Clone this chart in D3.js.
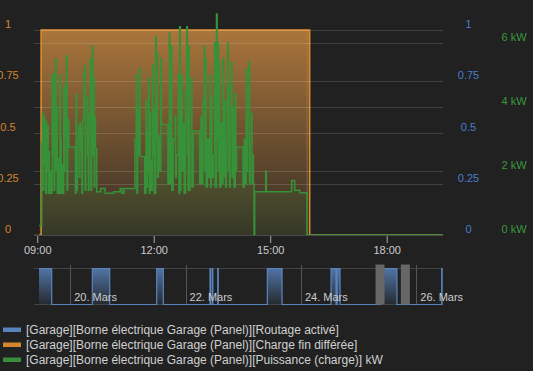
<!DOCTYPE html>
<html>
<head>
<meta charset="utf-8">
<script src="https://cdn.jsdelivr.net/npm/d3@7"></script>
<style>
  html, body { margin: 0; padding: 0; background: #212121; }
  svg { display: block; font-family: "Liberation Sans", Arial, sans-serif; }
</style>
</head>
<body>
<svg id="chart" width="533" height="371"></svg>
<script>
// visible window and navigator window
const day = '2024-03-25';
const viewStart = '2024-03-25 08:55';
const viewEnd = '2024-03-25 19:27';
const navStart = '2024-03-19 08:55';
const navEnd = '2024-03-26 11:07';

const leftTicks = [0, 0.25, 0.5, 0.75, 1];
const kwTicks = [0, 2, 4, 6];
const timeTicks = ['09:00', '12:00', '15:00', '18:00'];
const navTickDays = ['2024-03-20', '2024-03-22', '2024-03-24', '2024-03-26'];
const navTickLabels = ['20. Mars', '22. Mars', '24. Mars', '26. Mars'];

const seriesNames = [
  '[Garage][Borne électrique Garage (Panel)][Routage activé]',
  '[Garage][Borne électrique Garage (Panel)][Charge fin différée]',
  '[Garage][Borne électrique Garage (Panel)][Puissance (charge)] kW'
];
const seriesColors = ['#5a84be', '#d4862e', '#3a8d3c'];

// Charge fin différée (0/1) on 25 Mars
const chargeTimes = ['09:03', '09:06', '16:01', '19:30'];
const chargeValues = [0, 1, 0, 0];

// Puissance (charge) in kW on 25 Mars
const powerTimes = [
  '09:03','09:07','09:08','09:09','09:10','09:11','09:12','09:13','09:14','09:15','09:16','09:17','09:18','09:19','09:20','09:21',
  '09:23','09:24','09:25','09:26','09:27','09:28','09:29','09:30','09:31','09:32','09:33','09:35','09:36','09:37','09:39','09:40',
  '09:41','09:42','09:43','09:44','09:45','09:46','09:47','09:49','09:59','10:00','10:01','10:02','10:04','10:05','10:06','10:07',
  '10:08','10:09','10:10','10:12','10:13','10:14','10:15','10:17','10:18','10:19','10:20','10:22','10:23','10:24','10:25','10:26',
  '10:27','10:28','10:29','10:30','10:32','10:38','10:45','10:58','11:08','11:11','11:14','11:31','11:33','11:34','11:35','11:36',
  '11:38','11:39','11:46','11:48','11:49','11:50','11:51','11:52','11:53','11:54','11:55','11:56','11:58','11:59','12:00','12:01',
  '12:03','12:04','12:05','12:06','12:07','12:09','12:11','12:12','12:22','12:24','12:25','12:26','12:27','12:28','12:30','12:33',
  '12:34','12:35','12:38','12:39','12:40','12:41','12:42','12:43','12:44','12:46','12:47','12:49','12:51','12:52','12:53','12:54',
  '12:55','12:56','12:58','12:59','13:01','13:11','13:13','13:14','13:16','13:18','13:19','13:20','13:21','13:23','13:25','13:27',
  '13:28','13:29','13:30','13:32','13:34','13:35','13:37','13:38','13:39','13:40','13:41','13:42','13:44','13:45','13:47','13:48',
  '13:50','13:51','13:52','13:54','13:55','13:56','13:57','13:58','14:00','14:01','14:03','14:04','14:06','14:07','14:08','14:18',
  '14:20','14:21','14:23','14:24','14:25','14:27','14:28','14:29','14:31','14:32','14:33','14:34','14:35','14:36','14:53','14:54',
  '15:33','15:38','15:46','15:57','19:30'
];
const powerKW = [
  0.3,2.9,3.8,1.4,3.7,2.2,3.6,1.3,3.5,2.0,3.4,1.3,2.6,1.3,2.0,1.3,
  5.0,2.5,5.0,1.4,3.5,5.5,2.0,4.0,1.3,2.4,1.3,5.0,3.0,1.3,2.2,1.3,
  4.6,2.0,4.7,3.0,5.6,1.4,3.6,2.75,1.3,4.4,1.4,3.0,3.4,1.8,3.5,2.6,
  3.3,1.3,3.6,5.1,5.3,1.4,3.0,4.3,2.5,1.4,3.8,5.5,1.4,4.0,5.9,2.5,
  4.9,1.5,3.7,2.7,1.35,1.45,1.3,1.35,1.45,1.3,1.45,3.0,5.0,1.3,4.0,2.5,
  5.2,2.45,1.3,4.2,1.5,3.2,2.0,4.9,1.3,3.8,2.3,1.4,5.3,2.5,4.0,1.3,
  6.2,3.0,5.7,1.8,3.1,2.0,5.5,3.45,1.6,6.3,1.6,3.5,5.9,1.4,3.0,3.7,
  1.8,2.5,5.0,1.3,6.5,1.4,4.5,5.0,2.0,3.5,1.3,4.5,6.5,2.5,1.4,5.9,
  1.4,3.0,4.9,1.5,3.25,1.6,3.7,1.6,4.2,5.9,2.0,5.5,1.5,3.0,1.8,5.0,
  1.5,4.3,1.8,2.5,6.0,1.5,6.9,3.0,6.0,2.0,5.4,1.5,3.5,1.6,5.5,1.8,
  4.2,1.5,3.0,6.0,2.0,4.7,1.5,3.5,5.4,1.8,4.0,1.5,4.4,2.0,2.75,1.5,
  3.0,1.6,5.2,2.0,3.8,5.4,1.6,3.0,3.8,1.6,2.5,1.6,0,1.35,2.0,1.35,
  1.7,1.4,1.32,0,0
];

// Routage activé (0/1) over the navigator week
const routageTimes = [
  '2024-03-19 11:00','2024-03-19 16:17','2024-03-20 09:11','2024-03-20 16:25',
  '2024-03-21 11:59','2024-03-21 14:44','2024-03-22 10:10','2024-03-22 10:25',
  '2024-03-22 11:07','2024-03-22 11:20','2024-03-22 13:22','2024-03-22 13:35',
  '2024-03-23 10:01','2024-03-23 16:08','2024-03-24 12:31','2024-03-24 14:36',
  '2024-03-24 15:03','2024-03-24 16:16','2024-03-25 09:06','2024-03-25 15:57',
  '2024-03-26 10:35','2024-03-26 10:45'
];
const routageValues = [1,0,1,0, 1,0,1,0, 1,0,1,0, 1,0,1,0, 1,0,1,0, 1,0];

const parse = d3.timeParse('%Y-%m-%d %H:%M');
const chargeData = chargeTimes.map((t, i) => ({ t: parse(`${day} ${t}`), v: chargeValues[i] }));
const powerData = powerTimes.map((t, i) => ({ t: parse(`${day} ${t}`), v: powerKW[i] }));
const routageData = routageTimes.map((t, i) => ({ t: parse(t), v: routageValues[i] }));

const svg = d3.select('#chart');
const defs = svg.append('defs');

// main plot scales
const plotLeft = 34, plotRight = 443, plotTop = 30, plotBottom = 235;
const x = d3.scaleTime().domain([parse(viewStart), parse(viewEnd)]).range([plotLeft, plotRight]);
const yL = d3.scaleLinear().domain([0, 1]).range([plotBottom, plotTop]);
const yKW = d3.scaleLinear().domain([0, 6.4]).range([plotBottom, plotTop]);

function vGradient(id, color, y1, y2, o1, o2) {
  const g = defs.append('linearGradient').attr('id', id)
    .attr('gradientUnits', 'userSpaceOnUse')
    .attr('x1', 0).attr('x2', 0).attr('y1', y1).attr('y2', y2);
  g.append('stop').attr('offset', 0).attr('stop-color', color).attr('stop-opacity', o1);
  g.append('stop').attr('offset', 1).attr('stop-color', color).attr('stop-opacity', o2);
}
vGradient('gOrange', '#c2843f', plotTop, plotBottom, 0.85, 0.12);
vGradient('gGreen', '#3c8c3c', plotTop, plotBottom, 0.35, 0.12);
vGradient('gBlue', '#5a84be', 268, 305, 0.85, 0.08);

defs.append('clipPath').attr('id', 'plotClip')
  .append('rect').attr('x', plotLeft).attr('y', 0)
  .attr('width', plotRight - plotLeft).attr('height', plotBottom + 1);

const plot = svg.append('g').attr('clip-path', 'url(#plotClip)');

// routage line (mostly hidden under the charge area in this window)
plot.append('path').datum(routageData)
  .attr('fill', 'none').attr('stroke', '#8a95a5').attr('stroke-opacity', 0.45).attr('stroke-width', 1)
  .attr('d', d3.line().curve(d3.curveStepAfter).x(d => x(d.t)).y(d => yL(d.v)));

// charge fin différée area
plot.append('path').datum(chargeData)
  .attr('fill', 'url(#gOrange)')
  .attr('d', d3.area().curve(d3.curveStepAfter).x(d => x(d.t)).y0(plotBottom).y1(d => yL(d.v)));

// puissance area
plot.append('path').datum(powerData)
  .attr('fill', 'url(#gGreen)')
  .attr('d', d3.area().curve(d3.curveStepAfter).x(d => x(d.t)).y0(plotBottom).y1(d => yKW(d.v)));

// gridlines
const grid = svg.append('g').attr('stroke', 'rgba(255,255,255,0.14)').attr('stroke-width', 1);
leftTicks.filter(v => v > 0).forEach(v => {
  grid.append('line').attr('x1', plotLeft).attr('x2', plotRight)
    .attr('y1', Math.round(yL(v)) + 0.5).attr('y2', Math.round(yL(v)) + 0.5);
});
kwTicks.filter(v => v > 0).forEach(v => {
  grid.append('line').attr('x1', plotLeft).attr('x2', plotRight)
    .attr('y1', Math.round(yKW(v)) + 0.5).attr('y2', Math.round(yKW(v)) + 0.5);
});

// lines
plot.append('path').datum(chargeData)
  .attr('fill', 'none').attr('stroke', '#e08a2a').attr('stroke-width', 1.5)
  .attr('d', d3.line().curve(d3.curveStepAfter).x(d => x(d.t)).y(d => yL(d.v)));

svg.append('path').datum(powerData)
  .attr('fill', 'none').attr('stroke', '#379139').attr('stroke-width', 1.5)
  .attr('d', d3.line().curve(d3.curveStepAfter)
    .x(d => Math.min(x(d.t), plotRight)).y(d => yKW(d.v)));

// x axis
const xAxis = svg.append('g').attr('transform', `translate(0,${plotBottom})`)
  .call(d3.axisBottom(x)
    .tickValues(timeTicks.map(t => parse(`${day} ${t}`)))
    .tickFormat(d3.timeFormat('%H:%M'))
    .tickSize(8).tickPadding(3));
xAxis.select('.domain').remove();
xAxis.selectAll('.tick line').attr('stroke', '#aaa');
xAxis.selectAll('text').attr('fill', '#ccc').attr('font-size', 11).attr('font-family', null);
svg.append('line').attr('x1', plotLeft).attr('x2', plotRight)
  .attr('y1', plotBottom + 0.5).attr('y2', plotBottom + 0.5).attr('stroke', '#4a4a4a');

// y axes: labels only
function labelAxis(cx, scale, ticks, color, fmt) {
  const g = svg.append('g').attr('transform', `translate(${cx},-6)`)
    .call(d3.axisLeft(scale).tickValues(ticks).tickSize(0).tickPadding(0).tickFormat(fmt));
  g.select('.domain').remove();
  g.selectAll('text').attr('text-anchor', 'middle').attr('fill', color)
    .attr('font-size', 11).attr('font-family', null);
}
labelAxis(8, yL, leftTicks, '#d4862e', d3.format('~g'));
labelAxis(468.5, yL, leftTicks, '#4a7ccc', d3.format('~g'));
labelAxis(514, yKW, kwTicks, '#3c9a3c', d => `${d} kW`);

// navigator
const nx = d3.scaleTime().domain([parse(navStart), parse(navEnd)]).range([plotLeft, plotRight]);
const ny = d3.scaleLinear().domain([0, 1]).range([304.5, 268.5]);
const nav = svg.append('g');

nav.selectAll('line.hgrid').data([268.5, 304.5]).enter().append('line')
  .attr('x1', plotLeft).attr('x2', plotRight)
  .attr('y1', d => d).attr('y2', d => d).attr('stroke', '#424242');

nav.selectAll('line.vgrid').data(navTickDays).enter().append('line')
  .attr('x1', d => Math.round(nx(parse(d + ' 00:00'))) + 0.5)
  .attr('x2', d => Math.round(nx(parse(d + ' 00:00'))) + 0.5)
  .attr('y1', 265).attr('y2', 305).attr('stroke', '#555');

nav.append('path').datum(routageData)
  .attr('fill', 'url(#gBlue)')
  .attr('d', d3.area().curve(d3.curveStepAfter).x(d => nx(d.t)).y0(ny(0)).y1(d => ny(d.v)));
nav.append('path').datum(routageData)
  .attr('fill', 'none').attr('stroke', seriesColors[0]).attr('stroke-width', 1.2)
  .attr('d', d3.line().curve(d3.curveStepAfter).x(d => nx(d.t)).y(d => ny(d.v)));

nav.selectAll('text.navlabel').data(navTickDays).enter().append('text')
  .attr('x', d => nx(parse(d + ' 00:00')) + 4)
  .attr('y', 301).attr('fill', '#ccc').attr('font-size', 11)
  .text((d, i) => navTickLabels[i]);

// navigator handles
[viewStart, viewEnd].forEach(t => {
  nav.append('rect').attr('x', nx(parse(t)) - 4.5).attr('y', 264.5)
    .attr('width', 9).attr('height', 40).attr('fill', '#676767');
});

// legend
const legend = svg.append('g');
seriesNames.forEach((name, i) => {
  legend.append('rect').attr('x', 3).attr('y', 327.5 + i * 15)
    .attr('width', 18).attr('height', 4.5).attr('fill', seriesColors[i]);
  legend.append('text').attr('x', 26).attr('y', 333.5 + i * 15)
    .attr('fill', '#d0d0d0').attr('font-size', 12).text(name);
});
</script>
</body>
</html>
